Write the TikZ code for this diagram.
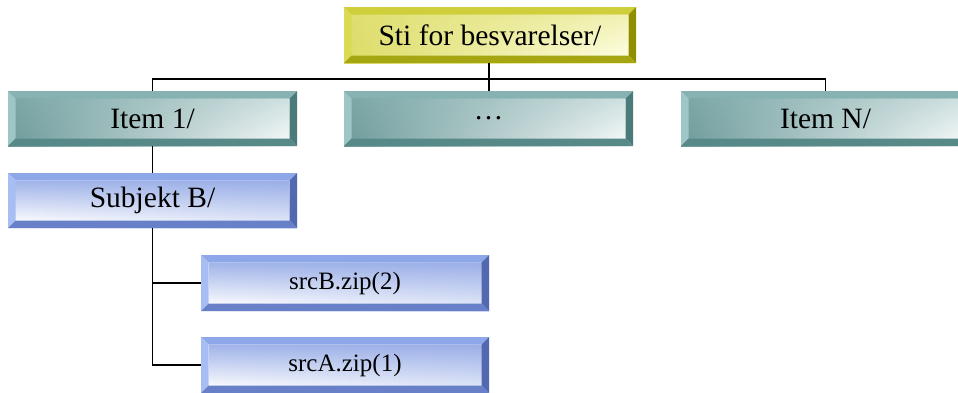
\documentclass[tikz,border=0pt]{standalone}
\usepackage{fontspec}
\setmainfont{Liberation Serif}
\usetikzlibrary{fadings}
\definecolor{yTop}{HTML}{CFCF3C}
\definecolor{yLeft}{HTML}{DADA55}
\definecolor{yRight}{HTML}{8F8F00}
\definecolor{yBot}{HTML}{A6A612}
\definecolor{yFaceA}{HTML}{DCDC66}
\definecolor{yFaceB}{HTML}{E2E27A}
\definecolor{tTop}{HTML}{86B2B2}
\definecolor{tLeft}{HTML}{9EC6C6}
\definecolor{tRight}{HTML}{4A7A7A}
\definecolor{tBot}{HTML}{588989}
\definecolor{tFaceA}{HTML}{6F9C9C}
\definecolor{tFaceB}{HTML}{8FB8B8}
\definecolor{bTop}{HTML}{8EA7E8}
\definecolor{bLeft}{HTML}{A8BDF2}
\definecolor{bRight}{HTML}{5268B0}
\definecolor{bBot}{HTML}{6880C8}
\definecolor{bFaceA}{HTML}{8AA2E4}
\tikzfading[name=fadedown, top color=transparent!0, bottom color=transparent!100]
\tikzset{
  bevel/.style n args={6}{path picture={
    \path (path picture bounding box.north west) coordinate (pNW)
          (path picture bounding box.north east) coordinate (pNE)
          (path picture bounding box.south west) coordinate (pSW)
          (path picture bounding box.south east) coordinate (pSE);
    \path ([shift={(7.5pt,-7.5pt)}]pNW) coordinate (iNW)
          ([shift={(-7.5pt,-7.5pt)}]pNE) coordinate (iNE)
          ([shift={(7.5pt,7.5pt)}]pSW) coordinate (iSW)
          ([shift={(-7.5pt,7.5pt)}]pSE) coordinate (iSE);
    \fill[#5, fill opacity=#6, path fading=fadedown] (iNW) rectangle (iSE);
    \fill[#1] (pNW) -- (pNE) -- (iNE) -- (iNW) -- cycle;
    \fill[#2] (pNW) -- (iNW) -- (iSW) -- (pSW) -- cycle;
    \fill[#3] (pNE) -- (pSE) -- (iSE) -- (iNE) -- cycle;
    \fill[#4] (pSW) -- (iSW) -- (iSE) -- (pSE) -- cycle;
  }},
  boxbase/.style={inner sep=0pt, minimum width=289pt, minimum height=55pt,
    font=\fontsize{29.5}{34}\selectfont},
  ybox/.style={boxbase, minimum width=292pt, minimum height=56pt,
    left color=yFaceA, middle color=white!94!yellow, right color=white!90!yellow,
    bevel={yTop}{yLeft}{yRight}{yBot}{yFaceB}{0.45}},
  tbox/.style={boxbase,
    left color=tFaceA, middle color=white, right color=white!94!tFaceA,
    bevel={tTop}{tLeft}{tRight}{tBot}{tFaceB}{0.35}},
  bbox/.style={boxbase,
    left color=white!95!bFaceA, middle color=white!95!bFaceA, right color=white!70!bFaceA,
    bevel={bTop}{bLeft}{bRight}{bBot}{bFaceA}{0.8}},
  sbox/.style={bbox, minimum width=288pt, minimum height=56pt,
    font=\fontsize{25}{30}\selectfont},
  wire/.style={draw=black, line width=1.5pt}
}
\begin{document}
\begin{tikzpicture}[x=1pt, y=-1pt]
\useasboundingbox (0,0) rectangle (958,392);
\clip (0,0) rectangle (958,392);
\node[ybox] (top) at (490,35) {Sti for besvarelser/};
\node[tbox] (item1) at (152.5,118.5) {Item 1/};
\node[tbox] (mid) at (488.5,118.5) {…};
\node[tbox] (itemN) at (825.5,118.5) {Item N/};
\node[bbox] (subj) at (152.5,200.5) {Subjekt B/};
\node[sbox] (srcB) at (345,283) {srcB.zip(2)};
\node[sbox] (srcA) at (345,365) {srcA.zip(1)};
\coordinate (bus) at (489,79);
\draw[wire] (top.south -| bus) -- (bus);
\draw[wire] (bus) -| (item1.north);
\draw[wire] (bus) -| (itemN.north);
\draw[wire] (bus) -- (mid.north -| bus);
\draw[wire] (item1.south) -- (subj.north);
\draw[wire] (subj.south) |- (srcB.west);
\draw[wire] (subj.south) |- (srcA.west);
\end{tikzpicture}
\end{document}
